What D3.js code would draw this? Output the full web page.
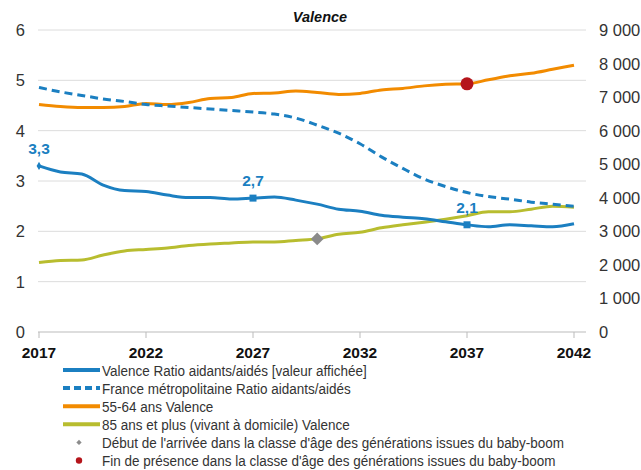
<!DOCTYPE html>
<html>
<head>
<meta charset="utf-8">
<script src="https://cdn.jsdelivr.net/npm/d3@7"></script>
<style>
  body { margin: 0; background: #fff; }
  svg text { font-family: "Liberation Sans", Arial, sans-serif; }
</style>
</head>
<body>
<div id="chart"></div>
<script>
// years 2017..2042
var years = d3.range(2017, 2043);

// ratio aidants/aides (left axis)
var valenceRatio = [3.30, 3.18, 3.14, 2.92, 2.81, 2.79, 2.72, 2.67, 2.67, 2.64, 2.66, 2.68, 2.62,
  2.54, 2.44, 2.40, 2.32, 2.28, 2.25, 2.19, 2.13, 2.09, 2.13, 2.11, 2.09, 2.15];
var franceRatio = [4.86, 4.77, 4.70, 4.63, 4.58, 4.52, 4.49, 4.46, 4.43, 4.40, 4.37, 4.33, 4.25,
  4.11, 3.95, 3.74, 3.48, 3.25, 3.04, 2.89, 2.77, 2.69, 2.64, 2.58, 2.54, 2.50];

// populations (right axis)
var pop5564 = [6780, 6720, 6690, 6690, 6720, 6810, 6780, 6840, 6960, 6990, 7110, 7125, 7185,
  7140, 7080, 7110, 7215, 7260, 7335, 7380, 7395, 7515, 7635, 7710, 7830, 7950];
var pop85 = [2070, 2130, 2145, 2295, 2415, 2460, 2505, 2580, 2625, 2655, 2685, 2685, 2730,
  2775, 2910, 2970, 3105, 3195, 3270, 3360, 3465, 3585, 3585, 3660, 3750, 3720];

var leftTicks = [0, 1, 2, 3, 4, 5, 6];
var rightTicks = [0, 1000, 2000, 3000, 4000, 5000, 6000, 7000, 8000, 9000];
var xTicks = [2017, 2022, 2027, 2032, 2037, 2042];
var labelYears = [2017, 2027, 2037];   // valeurs affichees
var squareYears = [2027, 2037];
var boomStart = 2030;   // gris, sur 85+
var boomEnd = 2037;     // rouge, sur 55-64

var blue = "#1b7fc1", orange = "#f28b00", green = "#b8bd2f";

var legendItems = [
  {label: "Valence Ratio aidants/aidés [valeur affichée]", type: "line", color: blue},
  {label: "France métropolitaine Ratio aidants/aidés", type: "dash", color: blue},
  {label: "55-64 ans Valence", type: "line", color: orange},
  {label: "85 ans et plus (vivant à domicile) Valence", type: "line", color: green},
  {label: "Début de l'arrivée dans la classe d'âge des générations issues du baby-boom", type: "diamond", color: "#8c8c8c"},
  {label: "Fin de présence dans la classe d'âge des générations issues du baby-boom", type: "circle", color: "#b5151b"}
];

var W = 641, H = 470;
var x0 = 39, x1 = 574, yTop = 30, yBot = 332;

var svg = d3.select("#chart").append("svg")
  .attr("width", W).attr("height", H);

var x = d3.scaleLinear().domain([2017, 2042]).range([x0, x1]);
var yL = d3.scaleLinear().domain([0, 6]).range([yBot, yTop]);
var yR = d3.scaleLinear().domain([0, 9000]).range([yBot, yTop]);

// grid
svg.append("g").selectAll("line")
  .data(leftTicks.filter(d => d > 0))
  .enter().append("line")
  .attr("x1", x0 - 1).attr("x2", 586)
  .attr("y1", d => yL(d)).attr("y2", d => yL(d))
  .attr("stroke", "#dcdcdc").attr("stroke-width", 1);

// left axis labels
svg.append("g").selectAll("text")
  .data(leftTicks)
  .enter().append("text")
  .attr("x", 25).attr("y", d => yL(d) + 6)
  .attr("text-anchor", "end")
  .attr("font-size", 16.5).attr("fill", "#333")
  .text(d => d);

// right axis labels
svg.append("g").selectAll("text")
  .data(rightTicks)
  .enter().append("text")
  .attr("x", 599).attr("y", d => yR(d) + 6)
  .attr("font-size", 16.5).attr("fill", "#333")
  .text(d => d3.format(",")(d).replace(/,/g, " "));

// x axis
svg.append("line")
  .attr("x1", x0 - 1).attr("x2", 586)
  .attr("y1", yBot).attr("y2", yBot)
  .attr("stroke", "#bbbbbb");
svg.append("g").selectAll("line")
  .data(xTicks).enter().append("line")
  .attr("x1", d => x(d)).attr("x2", d => x(d))
  .attr("y1", yBot).attr("y2", yBot + 6)
  .attr("stroke", "#bbbbbb");
svg.append("g").selectAll("text")
  .data(xTicks).enter().append("text")
  .attr("x", d => x(d)).attr("y", 358)
  .attr("text-anchor", "middle")
  .attr("font-size", 15.5).attr("font-weight", "bold").attr("fill", "#111")
  .text(d => d);

// title
svg.append("text")
  .attr("x", 320).attr("y", 22)
  .attr("text-anchor", "middle")
  .attr("font-size", 14.5).attr("font-weight", "bold").attr("font-style", "italic")
  .attr("fill", "#111")
  .text("Valence");

function drawLine(vals, yScale, color, dash) {
  var line = d3.line()
    .x((d, i) => x(years[i]))
    .y(d => yScale(d))
    .curve(d3.curveMonotoneX);
  svg.append("path")
    .datum(vals)
    .attr("d", line)
    .attr("fill", "none")
    .attr("stroke", color)
    .attr("stroke-width", 3)
    .attr("stroke-dasharray", dash ? "8,5" : null);
}

drawLine(pop85, yR, green, false);
drawLine(pop5564, yR, orange, false);
drawLine(franceRatio, yL, blue, true);
drawLine(valenceRatio, yL, blue, false);

// markers on valence ratio
svg.append("g").selectAll("rect")
  .data(squareYears).enter().append("rect")
  .attr("x", d => x(d) - 3.5)
  .attr("y", d => yL(valenceRatio[years.indexOf(d)]) - 3.5)
  .attr("width", 7).attr("height", 7)
  .attr("fill", blue);
svg.append("path")
  .attr("d", d3.symbol(d3.symbolDiamond, 20)())
  .attr("transform", "translate(" + x(2017) + "," + yL(valenceRatio[0]) + ")")
  .attr("fill", blue);

svg.append("g").selectAll("text")
  .data(labelYears).enter().append("text")
  .attr("x", d => x(d)).attr("y", d => yL(valenceRatio[years.indexOf(d)]) - 12)
  .attr("text-anchor", "middle")
  .attr("font-size", 15.5).attr("font-weight", "bold").attr("fill", blue)
  .text(d => d3.format(".1f")(valenceRatio[years.indexOf(d)]).replace(".", ","));

// baby-boom markers
svg.append("path")
  .attr("d", d3.symbol(d3.symbolSquare, 80)())
  .attr("transform", "translate(" + x(boomStart) + "," + yR(pop85[years.indexOf(boomStart)]) + ") rotate(45)")
  .attr("fill", "#8a8a8a");
svg.append("circle")
  .attr("cx", x(boomEnd)).attr("cy", yR(pop5564[years.indexOf(boomEnd)]))
  .attr("r", 6.5).attr("fill", "#b5151b");

// legend
var lg = svg.append("g").selectAll("g")
  .data(legendItems).enter().append("g")
  .attr("transform", (d, i) => "translate(0," + (370 + i * 18.1) + ")");
lg.each(function(d) {
  var g = d3.select(this);
  if (d.type === "line" || d.type === "dash") {
    g.append("line").attr("x1", 63).attr("x2", 100).attr("y1", 0).attr("y2", 0)
      .attr("stroke", d.color).attr("stroke-width", 4)
      .attr("stroke-dasharray", d.type === "dash" ? "7,4" : null);
  } else if (d.type === "diamond") {
    g.append("path").attr("d", d3.symbol(d3.symbolSquare, 14)())
      .attr("transform", "translate(79,0) rotate(45)").attr("fill", d.color);
  } else {
    g.append("circle").attr("cx", 79).attr("cy", 0).attr("r", 3.2).attr("fill", d.color);
  }
  g.append("text")
    .attr("transform", "translate(102,5.5) scale(0.87,1)")
    .attr("font-size", 15.5).attr("fill", "#333")
    .text(d.label);
});
</script>
</body>
</html>
